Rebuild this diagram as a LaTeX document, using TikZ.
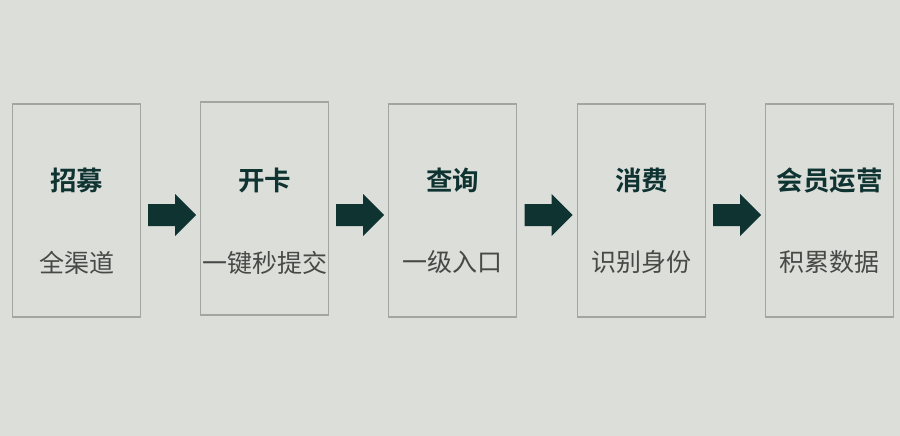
\documentclass[tikz,border=0pt]{standalone}
\usepackage{fontspec}
\newfontfamily\cjk{Noto Sans CJK SC}[BoldFont=Noto Sans CJK SC Bold]
\definecolor{bgc}{HTML}{DCDEDA}
\definecolor{framec}{HTML}{A3A5A2}
\definecolor{darkteal}{HTML}{0E3331}
\definecolor{subc}{HTML}{474947}
\begin{document}
\begin{tikzpicture}[x=1pt,y=-1pt,
  stage/.style={draw=framec, line width=1.4pt, fill=bgc, minimum width=128pt, minimum height=213pt, inner sep=0pt},
  headtxt/.style={font=\cjk\bfseries\fontsize{26.5}{27}\selectfont, text=darkteal},
  subtxt/.style={font=\cjk\fontsize{25}{26}\selectfont, text=subc},
  flow/.style={fill=darkteal, draw=none}]
\fill[bgc] (0,0) rectangle (900,436);
\useasboundingbox (0,0) rectangle (900,436);
% stage boxes
\node[stage] (s1) at (76.5,210.5) {};
\node[stage] (s2) at (264.5,208.5) {};
\node[stage] (s3) at (452.5,210.5) {};
\node[stage] (s4) at (641.5,210.5) {};
\node[stage] (s5) at (829.5,210.5) {};
% titles and captions
\foreach \n/\t/\s in {s1/招募/全渠道, s2/开卡/一键秒提交, s3/查询/一级入口, s4/消费/识别身份, s5/会员运营/积累数据}{
  \node[headtxt] (\n h) at ([yshift=30pt]\n.center |- 0,210.5) {\t};
  \node[subtxt] (\n c) at ([yshift=-52pt]\n.center |- 0,210.5) {\s};
}
% block arrows between stages
\foreach \a/\b in {s1/s2, s2/s3, s3/s4, s4/s5}{
  \path (\a.east) -- (\b.west) coordinate[pos=0.5] (m\a);
  \fill[flow] ([xshift=-22.5pt]m\a |- 0,204) -- ++(27,0) -- ++(0,-10) -- ++(21,21) -- ++(-21,21) -- ++(0,-10) -- ++(-27,0) -- cycle;
}
\end{tikzpicture}
\end{document}
